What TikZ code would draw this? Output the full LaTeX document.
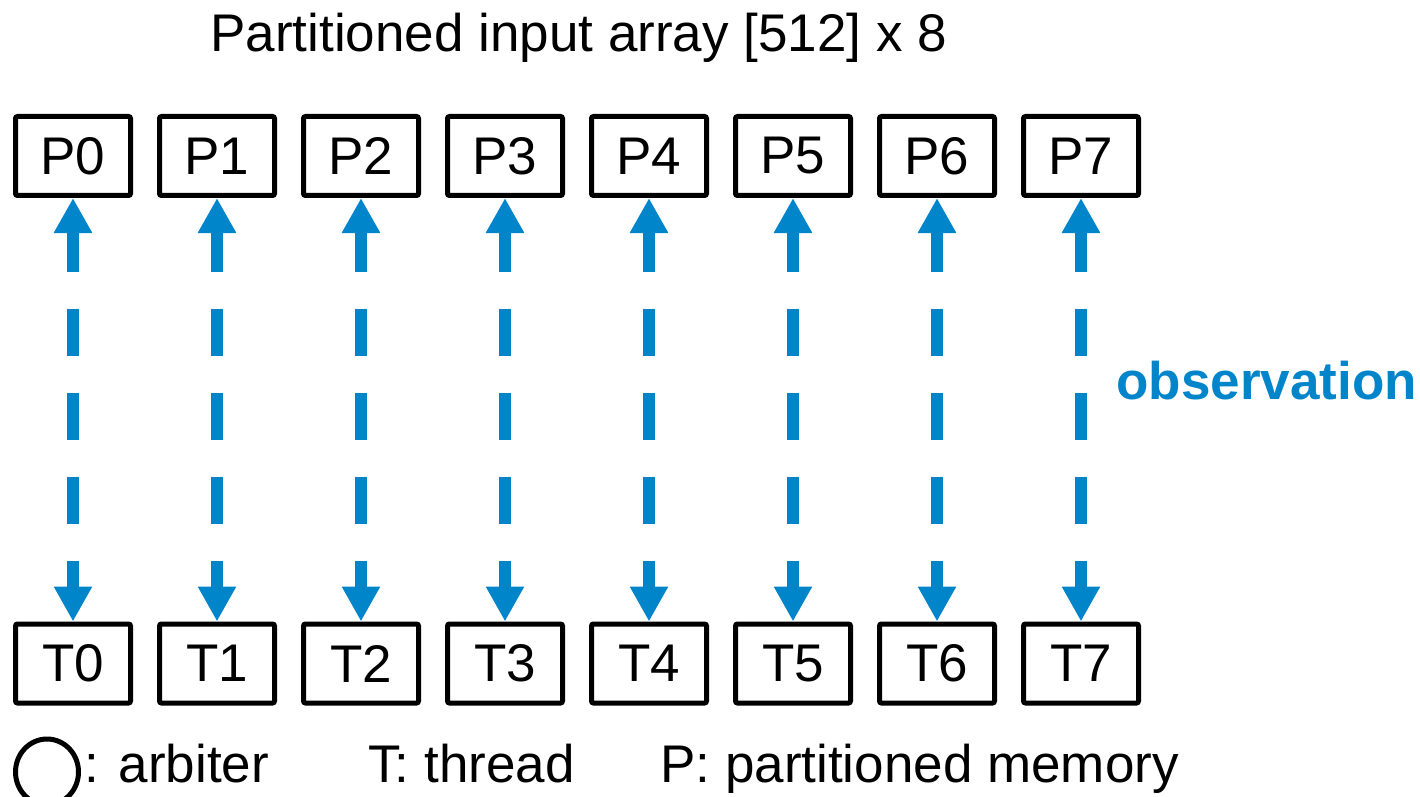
\documentclass[tikz,border=0pt]{standalone}
\usepackage{fontspec}
\setmainfont{Liberation Sans}
\usetikzlibrary{arrows.meta}
\usetikzlibrary{positioning}
\usetikzlibrary{shapes.geometric}

\definecolor{obsblue}{RGB}{0,133,202}
\newcommand{\bigtxt}{\fontsize{26.5}{30}\selectfont}
\tikzset{
  membox/.style={draw,line width=2.5pt,rounded corners=1pt,minimum width=57.5pt,minimum height=39.5pt,inner sep=0pt,font=\bigtxt},
  obsarrow/.style={obsblue,line width=6pt,dash pattern=on 23.5pt off 18.5pt,dash phase=3pt,
    {Triangle[width=18pt,length=17.5pt]}-{Triangle[width=18pt,length=17.5pt]}},
  lbl/.style={font=\bigtxt,inner sep=0pt}
}

\begin{document}
\begin{tikzpicture}[x=0.5pt,y=-0.5pt]
\useasboundingbox (0,0) rectangle (1420,797);
\node[lbl,anchor=base west] (title) at (210,52) {Partitioned input array [512] x 8};

\node[membox] (P0) at (73,156) {P0};
\node[membox] (P1) at (217,156) {P1};
\node[membox] (P2) at (361,156) {P2};
\node[membox] (P3) at (505,156) {P3};
\node[membox] (P4) at (649,156) {P4};
\node[membox] (P5) at (793,156) {P5};
\node[membox] (P6) at (937,156) {P6};
\node[membox] (P7) at (1081,156) {P7};

\node[membox] (T0) at (73,663.5) {T0};
\node[membox] (T1) at (217,663.5) {T1};
\node[membox] (T2) at (361,663.5) {T2};
\node[membox] (T3) at (505,663.5) {T3};
\node[membox] (T4) at (649,663.5) {T4};
\node[membox] (T5) at (793,663.5) {T5};
\node[membox] (T6) at (937,663.5) {T6};
\node[membox] (T7) at (1081,663.5) {T7};

\draw[obsarrow] (P0.south) -- (T0.north);
\draw[obsarrow] (P1.south) -- (T1.north);
\draw[obsarrow] (P2.south) -- (T2.north);
\draw[obsarrow] (P3.south) -- (T3.north);
\draw[obsarrow] (P4.south) -- (T4.north);
\draw[obsarrow] (P5.south) -- (T5.north);
\draw[obsarrow] (P6.south) -- (T6.north);
\draw[obsarrow] (P7.south) -- (T7.north);

\node[lbl,font=\bigtxt\bfseries,text=obsblue,anchor=west] (obs) at (1116,381) {observation};

% legend
\node[ellipse,draw,line width=2.5pt,minimum width=31.5pt,minimum height=33pt,inner sep=0pt] (arb) at (47,772) {};
\node[lbl,anchor=base west] (arbtxt) at (84,782) {: arbiter};
\node[lbl,anchor=base west] (thrtxt) at (368,782) {T: thread};
\node[lbl,anchor=base west] (memtxt) at (660,782) {P: partitioned memory};

\end{tikzpicture}
\end{document}
